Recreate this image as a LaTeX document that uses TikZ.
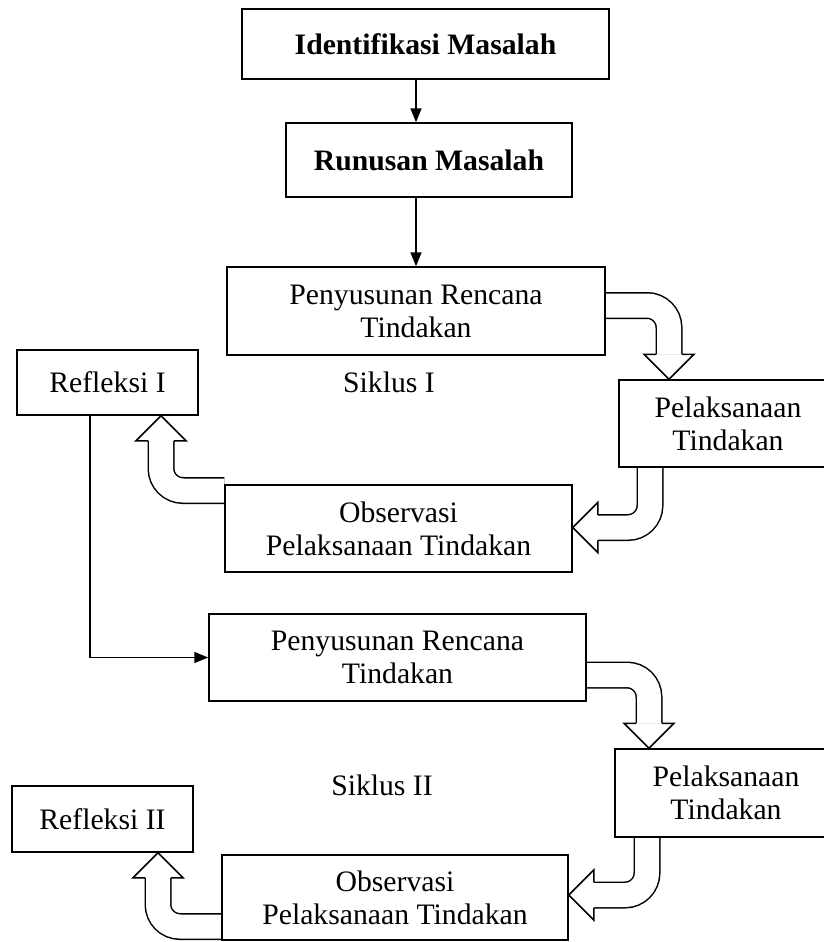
\documentclass[tikz,border=0pt]{standalone}
\usepackage{fontspec}
\setmainfont{Liberation Serif}
\usetikzlibrary{calc,arrows.meta}
\pgfdeclarelayer{bg}
\pgfsetlayers{bg,main}
\newcommand\dfont{\fontsize{29.7}{33}\selectfont}
\tikzset{
  box/.style={draw, line width=1.5pt, inner sep=0pt, align=center, font=\dfont},
  lbl/.style={inner sep=0pt, font=\dfont},
  thinarrow/.style={line width=1.5pt, -{Triangle[length=14pt,width=11pt]}},
  bandline/.style={double=white, double distance=24pt, line width=1.5pt, rounded corners=22pt},
  headline/.style={fill=white, draw=black, line width=1.5pt}
}
% #1 start, #2 tip, #3 head-base offset, #4 perpendicular unit, #5 path operation
\newcommand\bentarrow[5]{%
  \coordinate (ba-b) at ($(#2)+(#3)$);
  \draw[bandline] (#1) #5 (ba-b);
  \filldraw[headline] ($(ba-b)+12.75*(#4)$) -- ($(ba-b)+25*(#4)$) -- (#2) -- ($(ba-b)-25*(#4)$) -- ($(ba-b)-12.75*(#4)$);
}
\begin{document}
\begin{tikzpicture}[x=1pt,y=-1pt]
\useasboundingbox (0,0) rectangle (824,942);
\clip (0,0) rectangle (824,942);
\begin{pgfonlayer}{bg}
\fill[white] (0,0) rectangle (824,942);
\end{pgfonlayer}

\node[box, minimum width=367pt, minimum height=70pt, font=\dfont\bfseries] (id) at (425.5,44) {Identifikasi Masalah};
\node[box, minimum width=286pt, minimum height=74pt, font=\dfont\bfseries] (rm) at (429,160) {Runusan Masalah};
\node[box, minimum width=378pt, minimum height=88pt] (p1) at (416,311) {Penyusunan Rencana\\Tindakan};
\node[box, minimum width=181pt, minimum height=65pt] (r1) at (107.5,382.5) {Refleksi I};
\node[lbl] (s1) at (389,382) {Siklus I};
\node[box, minimum width=218pt, minimum height=87pt] (pl1) at (728,423.5) {Pelaksanaan\\Tindakan};
\node[box, minimum width=347pt, minimum height=87pt] (o1) at (398.5,528.5) {Observasi\\Pelaksanaan Tindakan};
\node[box, minimum width=377pt, minimum height=87pt] (p2) at (397.5,657.5) {Penyusunan Rencana\\Tindakan};
\node[lbl] (s2) at (382,785) {Siklus II};
\node[box, minimum width=181pt, minimum height=66pt] (r2) at (102.5,819) {Refleksi II};
\node[box, minimum width=222pt, minimum height=88pt] (pl2) at (726,793) {Pelaksanaan\\Tindakan};
\node[box, minimum width=346pt, minimum height=85pt] (o2) at (395,897.5) {Observasi\\Pelaksanaan Tindakan};

% thin connectors
\draw[thinarrow] (id.south -| p1.north) -- (rm.north -| p1.north);
\draw[thinarrow] (rm.south -| p1.north) -- (p1.north);
\draw[thinarrow] ([xshift=-17.5pt]r1.south) |- (p2.west);

% block arrows
\coordinate (a1s) at ([yshift=5.5pt]p1.east);
\coordinate (a1t) at ([xshift=-59pt]pl1.north);
\coordinate (a2s) at ([xshift=-78pt]pl1.south);
\coordinate (a2t) at ([yshift=1pt]o1.east);
\coordinate (a3s) at ([yshift=38pt]o1.west);
\coordinate (a3t) at ([xshift=53.5pt]r1.south);
\coordinate (a4s) at ([yshift=-17.5pt]p2.east);
\coordinate (a4t) at ([xshift=-77pt]pl2.north);
\coordinate (a5s) at ([xshift=-79pt]pl2.south);
\coordinate (a5t) at ([yshift=2.5pt]o2.east);
\coordinate (a6s) at ([yshift=-29pt]o2.west);
\coordinate (a6t) at ([xshift=55.5pt]r2.south);
\begin{pgfonlayer}{bg}
\bentarrow{a1s}{a1t}{0,-25}{1,0}{-|}
\bentarrow{a2s}{a2t}{25,0}{0,1}{|-}
\bentarrow{a3s}{a3t}{0,25}{1,0}{-|}
\bentarrow{a4s}{a4t}{0,-25}{1,0}{-|}
\bentarrow{a5s}{a5t}{25,0}{0,1}{|-}
\bentarrow{a6s}{a6t}{0,25}{1,0}{-|}
\end{pgfonlayer}
\end{tikzpicture}
\end{document}
